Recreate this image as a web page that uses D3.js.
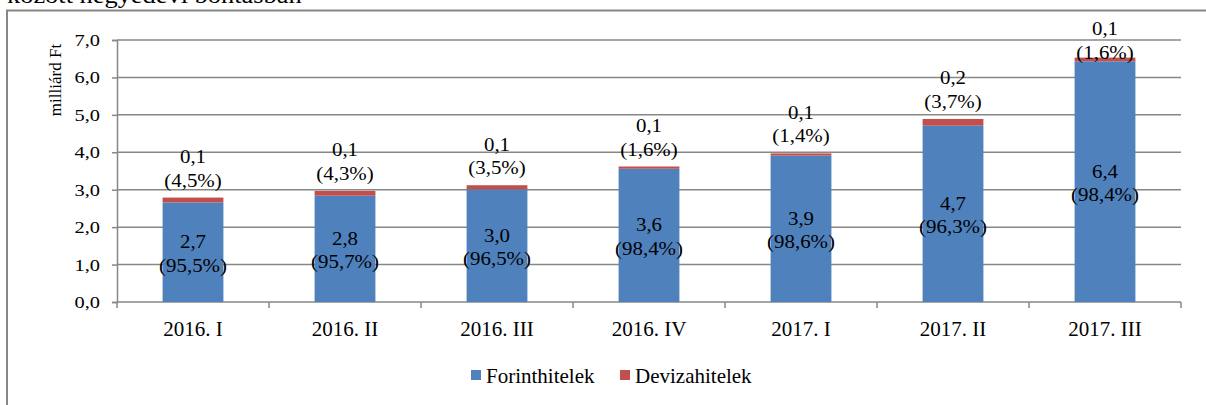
<!DOCTYPE html>
<html>
<head>
<meta charset="utf-8">
<script src="https://cdn.jsdelivr.net/npm/d3@7"></script>
<style>
  body { margin: 0; background: #fff; }
</style>
</head>
<body>
<div id="chart"></div>
<script>
// quarters
var quarters = ["2016. I", "2016. II", "2016. III", "2016. IV", "2017. I", "2017. II", "2017. III"];

// milliárd Ft
var forint = [2.66, 2.84, 3.01, 3.56, 3.91, 4.71, 6.43];
var deviza = [0.13, 0.13, 0.11, 0.06, 0.06, 0.18, 0.10];

// shares printed in the labels (%)
var forintPct = [95.5, 95.7, 96.5, 98.4, 98.6, 96.3, 98.4];
var devizaPct = [4.5, 4.3, 3.5, 1.6, 1.4, 3.7, 1.6];

var yTicks = [0, 1, 2, 3, 4, 5, 6, 7];
var seriesNames = ["Forinthitelek", "Devizahitelek"];
var colors = ["#4F81BD", "#C0504D"];

var serif = "'Liberation Serif', 'Times New Roman', serif";

var svgWidth = 1206;
var svgHeight = 405;

var margin = { top: 40, left: 117, right: 25, bottom: 103 };
var plotRight = svgWidth - margin.right;
var plotBottom = svgHeight - margin.bottom;

var huLocale = d3.formatLocale({ decimal: ",", thousands: " ", grouping: [3], currency: ["", " Ft"] });
var fmt1 = huLocale.format(".1f");

var svg = d3.select("#chart")
  .append("svg")
  .attr("width", svgWidth)
  .attr("height", svgHeight)
  .style("font-family", serif);

// title line cut off at the top
svg.append("text")
  .attr("transform", "translate(7,3) scale(1.1,1)")
  .style("font-family", serif)
  .style("font-size", "24px")
  .text("között negyedévi bontásban");

// chart frame
svg.append("rect")
  .attr("x", 7)
  .attr("y", 10.5)
  .attr("width", svgWidth + 20)
  .attr("height", svgHeight + 20)
  .attr("fill", "none")
  .attr("stroke", "#878787")
  .attr("stroke-width", 2);

var x = d3.scaleBand()
  .domain(quarters)
  .range([margin.left, plotRight])
  .paddingInner(0.6)
  .paddingOuter(0.3);

var y = d3.scaleLinear()
  .domain([0, 7])
  .range([plotBottom, margin.top]);

// gridlines
svg.append("g")
  .selectAll("line")
  .data(yTicks.slice(1))
  .enter()
  .append("line")
  .attr("x1", margin.left)
  .attr("x2", plotRight)
  .attr("y1", d => y(d))
  .attr("y2", d => y(d))
  .attr("stroke", "#878787")
  .attr("stroke-width", 1.5);

// y axis
var leftAxis = d3.axisLeft(y).tickValues(yTicks).tickSize(5).tickPadding(0).tickFormat(fmt1);
var gy = svg.append("g")
  .attr("transform", `translate(${margin.left},0)`)
  .call(leftAxis);
gy.select(".domain").attr("stroke", "#878787").attr("stroke-width", 1.5);
gy.selectAll(".tick line").attr("stroke", "#878787").attr("stroke-width", 1.5);
gy.selectAll(".tick text")
  .style("font-family", serif)
  .style("font-size", "17px")
  .attr("fill", "#000")
  .attr("x", 0)
  .attr("dy", "0.32em")
  .attr("transform", "translate(-17,0) scale(1.2,1)");

// x axis: labels from the band scale, ticks on the band borders
var bottomAxis = d3.axisBottom(x).tickSize(0).tickPadding(19);
var gx = svg.append("g")
  .attr("transform", `translate(0,${plotBottom})`)
  .call(bottomAxis);
gx.select(".domain").remove();
gx.selectAll(".tick text")
  .style("font-family", serif)
  .style("font-size", "21px")
  .attr("fill", "#000");

var borders = d3.range(quarters.length + 1).map(i => margin.left + i * x.step());
svg.append("line")
  .attr("x1", margin.left)
  .attr("x2", plotRight)
  .attr("y1", plotBottom)
  .attr("y2", plotBottom)
  .attr("stroke", "#878787")
  .attr("stroke-width", 1.5);
svg.append("g")
  .selectAll("line")
  .data(borders)
  .enter()
  .append("line")
  .attr("x1", d => d)
  .attr("x2", d => d)
  .attr("y1", plotBottom)
  .attr("y2", plotBottom + 6)
  .attr("stroke", "#878787")
  .attr("stroke-width", 1.5);

// stacked bars
var rows = quarters.map((q, i) => ({ q: q, forint: forint[i], deviza: deviza[i], fp: forintPct[i], dp: devizaPct[i] }));
var stack = d3.stack().keys(["forint", "deviza"]);
var layers = stack(rows);

svg.append("g")
  .selectAll("g")
  .data(layers)
  .enter()
  .append("g")
  .attr("fill", (d, i) => colors[i])
  .selectAll("rect")
  .data(d => d)
  .enter()
  .append("rect")
  .attr("x", d => x(d.data.q))
  .attr("width", x.bandwidth())
  .attr("y", d => y(d[1]))
  .attr("height", d => y(d[0]) - y(d[1]));

function addLabel(cx, baseY, txt) {
  svg.append("text")
    .attr("transform", `translate(${cx},${baseY}) scale(1.1,1)`)
    .attr("text-anchor", "middle")
    .style("font-family", serif)
    .style("font-size", "19px")
    .text(txt);
}

// labels inside the forint segment
layers[0].forEach(function(d) {
  var cx = x(d.data.q) + x.bandwidth() / 2;
  var mid = (y(d[0]) + y(d[1])) / 2;
  addLabel(cx, mid - 4, fmt1(d.data.forint));
  addLabel(cx, mid + 19.5, "(" + fmt1(d.data.fp) + "%)");
});

// labels above the deviza segment
layers[1].forEach(function(d) {
  var cx = x(d.data.q) + x.bandwidth() / 2;
  var first = Math.max(y(d[1]) - 34.5, 35);
  addLabel(cx, first, fmt1(d.data.deviza));
  addLabel(cx, first + 23.5, "(" + fmt1(d.data.dp) + "%)");
});

// y axis title
svg.append("text")
  .attr("transform", `translate(61,80) rotate(-90)`)
  .attr("text-anchor", "middle")
  .style("font-family", serif)
  .style("font-size", "17px")
  .text("milliárd Ft");

// legend
var legend = svg.append("g");
var legendX = [471, 620];
seriesNames.forEach(function(name, i) {
  legend.append("rect")
    .attr("x", legendX[i])
    .attr("y", 370)
    .attr("width", 10)
    .attr("height", 10)
    .attr("fill", colors[i]);
  legend.append("text")
    .attr("x", legendX[i] + 15)
    .attr("y", 383)
    .style("font-family", serif)
    .style("font-size", "21px")
    .text(name);
});
</script>
</body>
</html>
